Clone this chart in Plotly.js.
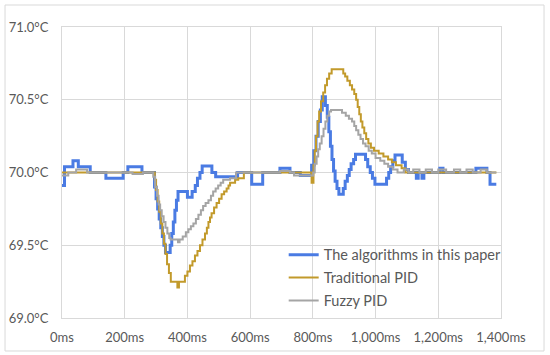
<!DOCTYPE html>
<html>
<head>
<meta charset="utf-8">
<script src="https://cdn.plot.ly/plotly-3.0.1.min.js"></script>
<style>html,body{margin:0;padding:0;background:#fff;}#chart{width:550px;height:355px;}</style>
</head>
<body>
<div id="chart"></div>
<script>
// Time (ms) / temperature (°C) change points, drawn as steps
const seriesNames = ["The algorithms in this paper", "Traditional PID", "Fuzzy PID"];

const blueT = [0, 8, 35, 52, 90, 140, 195, 210, 255, 290, 295, 300, 305, 310, 315, 320, 325, 330, 345, 350, 355, 360, 365, 370, 400, 415, 425, 432, 440, 447, 478, 490, 560, 605, 640, 695, 727, 760,
  796, 803, 810, 817, 824, 830, 840, 846, 851, 856, 861, 866, 871, 877, 883, 897, 903, 910, 916, 922, 930, 936, 968, 975, 983, 990, 998, 1035, 1042, 1048, 1055, 1062, 1085, 1095, 1105,
  1130, 1136, 1148, 1154, 1205, 1215, 1320, 1355, 1365, 1385];
const blueV = [69.91, 70.04, 70.08, 70.04, 70.0, 69.96, 70.0, 70.04, 70.0, 70.0, 69.9, 69.82, 69.75, 69.68, 69.62, 69.56, 69.5, 69.45, 69.5, 69.58, 69.66, 69.74, 69.81, 69.87, 69.83, 69.87, 69.91, 69.96, 70.0, 70.045, 70.0, 69.97, 70.0, 69.92, 70.0, 70.03, 70.0, 69.98,
  70.05, 70.15, 70.25, 70.35, 70.43, 70.52, 70.46, 70.38, 70.28, 70.18, 70.09, 70.01, 69.94, 69.89, 69.85, 69.89, 69.94, 69.98, 70.02, 70.06, 70.09, 70.125, 70.09, 70.04, 70.0, 69.96, 69.92, 69.96, 70.0, 70.04, 70.08, 70.12, 70.07, 70.02, 70.0,
  69.96, 70.0, 69.96, 70.0, 70.03, 70.0, 70.03, 70.0, 69.92, 69.92];

const goldT = [0, 296, 300, 305, 310, 315, 320, 325, 330, 335, 341, 347, 368, 373, 392, 400, 408, 416, 424, 432, 440, 448, 456, 462, 467, 472, 477, 485, 493, 501, 509, 517, 525, 531, 536, 552, 562, 580,
  796, 802, 806, 810, 815, 820, 826, 833, 839, 845, 852, 860, 897, 903, 910, 918, 925, 932, 938, 943, 948, 953, 958, 964, 970, 977, 985, 995, 1010, 1025, 1040, 1052, 1065, 1083, 1095, 1385];
const goldV = [70.0, 69.95, 69.88, 69.8, 69.73, 69.65, 69.58, 69.51, 69.44, 69.37, 69.31, 69.25, 69.21, 69.25, 69.29, 69.32, 69.36, 69.39, 69.43, 69.46, 69.5, 69.54, 69.58, 69.62, 69.66, 69.69, 69.72, 69.76, 69.79, 69.82, 69.85, 69.87, 69.89, 69.91, 69.93, 69.95, 69.96, 70.0,
  69.93, 70.05, 70.15, 70.25, 70.35, 70.42, 70.49, 70.55, 70.6, 70.645, 70.68, 70.71, 70.68, 70.66, 70.63, 70.6, 70.57, 70.54, 70.5, 70.45, 70.4, 70.35, 70.31, 70.27, 70.23, 70.2, 70.17, 70.15, 70.13, 70.11, 70.09, 70.07, 70.05, 70.03, 70.0, 70.0];

const grayT = [0, 20, 45, 80, 225, 258, 291, 297, 303, 308, 313, 318, 324, 330, 336, 342, 346, 370, 375, 385, 395, 403, 411, 419, 427, 435, 443, 450, 458, 467, 475, 482, 490, 498, 506, 514, 536, 555, 695, 727, 740,
  801, 806, 812, 817, 822, 828, 834, 840, 846, 852, 858, 893, 905, 915, 925, 932, 938, 945, 952, 960, 968, 978, 988, 1000, 1015, 1028, 1040, 1055, 1070,
  1090, 1105, 1120, 1140, 1160, 1180, 1200, 1225, 1250, 1270, 1290, 1310, 1335, 1355, 1385];
const grayV = [69.98, 70.0, 70.02, 70.0, 69.99, 70.0, 69.97, 69.9, 69.84, 69.78, 69.74, 69.7, 69.66, 69.62, 69.58, 69.55, 69.54, 69.52, 69.54, 69.56, 69.59, 69.61, 69.63, 69.65, 69.68, 69.71, 69.74, 69.77, 69.79, 69.81, 69.84, 69.87, 69.89, 69.91, 69.93, 69.95, 69.96, 70.0, 70.01, 70.0, 69.98,
  70.0, 70.06, 70.11, 70.16, 70.2, 70.25, 70.3, 70.35, 70.39, 70.42, 70.43, 70.41, 70.39, 70.37, 70.35, 70.32, 70.29, 70.26, 70.23, 70.2, 70.18, 70.15, 70.13, 70.1, 70.08, 70.06, 70.04, 70.02, 70.0,
  70.02, 70.0, 70.02, 70.0, 70.02, 70.0, 70.02, 70.0, 70.02, 70.0, 70.02, 70.0, 70.02, 70.0, 70.0];

const colors = ["#4A7BE3", "#C29A2B", "#A5A5A5"];
const widths = [3, 2, 2];

const xTickVals = [0, 200, 400, 600, 800, 1000, 1200, 1400];
const xTickText = ["0ms", "200ms", "400ms", "600ms", "800ms", "1,000ms", "1,200ms", "1,400ms"];
const yTickVals = [69.0, 69.5, 70.0, 70.5, 71.0];
const yTickText = ["69.0°C", "69.5°C", "70.0°C", "70.5°C", "71.0°C"];

const seriesT = [blueT, goldT, grayT];
const seriesV = [blueV, goldV, grayV];

const traces = seriesNames.map((name, i) => ({
  type: "scatter",
  mode: "lines",
  name: name,
  x: seriesT[i],
  y: seriesV[i],
  line: {color: colors[i], width: widths[i], shape: "hv"},
  legendgroup: "g" + i
}));

const fontFam = "Lato, 'Open Sans', sans-serif";
const layout = {
  width: 550,
  height: 355,
  margin: {l: 62, r: 49, t: 27, b: 37},
  paper_bgcolor: "#ffffff",
  plot_bgcolor: "#ffffff",
  font: {family: fontFam, size: 13, color: "#595959"},
  showlegend: true,
  legend: {
    x: 0.505, y: 0.272, xanchor: "left", yanchor: "top",
    bgcolor: "rgba(0,0,0,0)",
    font: {family: fontFam, size: 14.5, color: "#595959"},
    traceorder: "grouped",
    tracegroupgap: 1,
    itemwidth: 30
  },
  xaxis: {
    range: [0, 1400],
    tickmode: "array",
    tickvals: xTickVals,
    ticktext: xTickText,
    showgrid: true,
    gridcolor: "#D9D9D9",
    gridwidth: 1,
    zeroline: false,
    showline: true,
    mirror: true,
    linecolor: "#D9D9D9",
    linewidth: 1,
    ticks: "outside",
    ticklen: 7,
    tickcolor: "rgba(0,0,0,0)",
    tickfont: {family: fontFam, size: 13, color: "#595959"},
    fixedrange: true
  },
  yaxis: {
    range: [69, 71],
    tickmode: "array",
    tickvals: yTickVals,
    ticktext: yTickText,
    showgrid: true,
    gridcolor: "#D9D9D9",
    gridwidth: 1,
    zeroline: false,
    showline: true,
    mirror: true,
    linecolor: "#D9D9D9",
    linewidth: 1,
    ticks: "outside",
    ticklen: 10,
    tickcolor: "rgba(0,0,0,0)",
    tickfont: {family: fontFam, size: 13, color: "#595959"},
    fixedrange: true
  },
  shapes: [{
    type: "rect", xref: "paper", yref: "paper",
    x0: -0.1298, x1: 1.098, y0: -0.1134, y1: 1.0756,
    line: {color: "#D9D9D9", width: 1},
    fillcolor: "rgba(0,0,0,0)",
    layer: "below"
  }]
};

Plotly.newPlot("chart", traces, layout, {displayModeBar: false, staticPlot: true});
</script>
</body>
</html>
